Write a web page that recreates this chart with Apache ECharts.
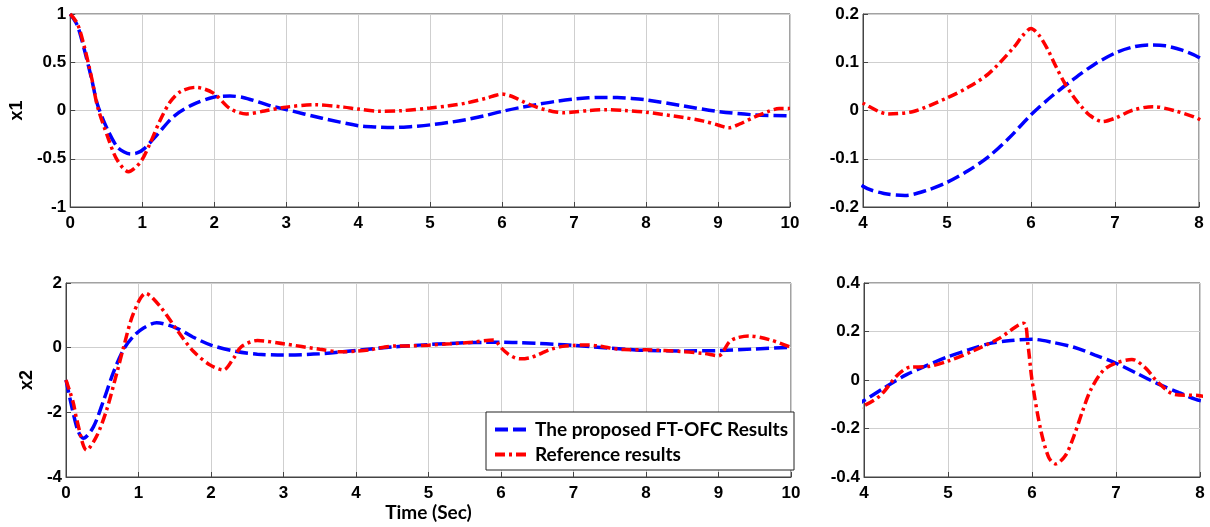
<!DOCTYPE html>
<html>
<head>
<meta charset="utf-8">
<script src="https://cdn.jsdelivr.net/npm/echarts@6/dist/echarts.min.js"></script>
<style>
  html, body { margin: 0; padding: 0; background: #fff; }
  #chart { width: 1210px; height: 527px; }
</style>
</head>
<body>
<div id="chart"></div>
<script>
// x1 — proposed FT-OFC (blue dashed)
const tX1Prop = [0, 0.1, 0.2, 0.3, 0.38, 0.52, 0.65, 0.75, 0.84, 0.93, 1.02, 1.21, 1.44, 1.71, 1.99, 2.22, 2.4, 2.63, 2.8, 3.0, 3.5,
  4.0, 4.25, 4.5, 4.75, 5.0, 5.25, 5.5, 5.75, 6.0, 6.25, 6.5, 6.75, 7.0, 7.2, 7.4, 7.6, 7.8, 8.0, 8.5, 9.0, 9.5, 10]
const x1Prop = [1.0, 0.88, 0.62, 0.32, 0.06, -0.2, -0.375, -0.43, -0.45, -0.44, -0.40, -0.25, -0.06, 0.064, 0.137, 0.15, 0.135, 0.085, 0.045, 0.01, -0.08,
  -0.157, -0.172, -0.176, -0.166, -0.149, -0.125, -0.095, -0.055, -0.009, 0.03, 0.064, 0.095, 0.119, 0.131, 0.136, 0.134, 0.125, 0.110, 0.05, -0.01, -0.045, -0.055]

// x1 — reference results (red dash-dot)
const tX1Ref = [0, 0.1, 0.2, 0.3, 0.38, 0.52, 0.65, 0.81, 0.98, 1.11, 1.25, 1.39, 1.53, 1.74, 1.99, 2.22, 2.45, 2.7, 3.0, 3.4, 3.8,
  4.0, 4.3, 4.6, 5.0, 5.25, 5.5, 5.8, 5.9, 6.0, 6.1, 6.2, 6.3, 6.4, 6.5, 6.6, 6.7, 6.85, 7.0, 7.2, 7.45, 7.7, 8.0,
  8.5, 8.8, 9.0, 9.15, 9.3, 9.5, 9.7, 9.85, 10]
const x1Ref = [1.0, 0.9, 0.65, 0.33, 0.04, -0.27, -0.51, -0.634, -0.53, -0.34, -0.10, 0.09, 0.195, 0.24, 0.18, 0.02, -0.035, -0.005, 0.035, 0.06, 0.035,
  0.015, -0.007, -0.002, 0.026, 0.048, 0.077, 0.132, 0.155, 0.170, 0.155, 0.126, 0.09, 0.057, 0.03, 0.008, -0.01, -0.023, -0.016, 0.0, 0.008, 0.0, -0.018,
  -0.07, -0.11, -0.15, -0.18, -0.14, -0.07, -0.01, 0.02, 0.02]

// x2 — proposed FT-OFC
const tX2Prop = [0, 0.1, 0.17, 0.24, 0.38, 0.52, 0.65, 0.79, 0.93, 1.07, 1.25, 1.53, 1.75, 2.0, 2.35, 2.64, 3.0, 3.5,
  4.0, 4.25, 4.5, 4.75, 5.0, 5.25, 5.5, 5.75, 6.0, 6.25, 6.5, 6.75, 7.0, 7.25, 7.5, 7.75, 8.0, 8.5, 9.0, 9.5, 10]
const x2Prop = [-1.0, -2.03, -2.6, -2.8, -2.44, -1.62, -0.79, -0.07, 0.35, 0.61, 0.77, 0.6, 0.33, 0.08, -0.12, -0.2, -0.23, -0.19,
  -0.085, -0.03, 0.021, 0.06, 0.096, 0.125, 0.151, 0.163, 0.168, 0.155, 0.135, 0.103, 0.069, 0.027, -0.016, -0.052, -0.085, -0.1, -0.09, -0.04, 0.01]

// x2 — reference results
const tX2Ref = [0, 0.1, 0.15, 0.285, 0.42, 0.56, 0.7, 0.79, 0.93, 1.1, 1.3, 1.53, 1.76, 1.99, 2.17, 2.31, 2.42, 2.64, 3.0, 3.5, 3.8,
  4.0, 4.2, 4.4, 4.55, 4.75, 5.0, 5.3, 5.6, 5.9, 5.95, 6.0, 6.1, 6.2, 6.28, 6.4, 6.5, 6.6, 6.7, 6.85, 7.0, 7.19, 7.35, 7.5, 7.7, 8.0,
  8.5, 8.8, 9.0, 9.15, 9.25, 9.42, 9.7, 10]
const x2Ref = [-1.0, -1.7, -2.24, -3.17, -2.75, -1.93, -0.79, -0.02, 1.06, 1.68, 1.27, 0.55, -0.12, -0.54, -0.69, -0.33, 0.03, 0.22, 0.12, -0.05, -0.13,
  -0.106, -0.062, 0.021, 0.053, 0.055, 0.078, 0.12, 0.17, 0.234, 0.15, 0.0, -0.2, -0.32, -0.346, -0.31, -0.23, -0.13, -0.04, 0.04, 0.07, 0.085, 0.05, -0.01, -0.06, -0.065,
  -0.12, -0.18, -0.25, 0.18, 0.3, 0.36, 0.25, 0.01]

const propName = 'The proposed FT-OFC Results'
const refName = 'Reference results'

function pairs(ts, vs) {
  return ts.map((t, i) => [t, vs[i]])
}

const tickFont = { color: '#000', fontSize: 17, fontWeight: 'bold', fontFamily: 'Arial, "Liberation Sans", sans-serif' }

function xAx(gridIndex, min, max, extra) {
  return Object.assign({
    type: 'value', gridIndex, min, max, interval: 1,
    axisLine: { onZero: false, lineStyle: { color: '#444' } },
    axisTick: { inside: true, length: 5, lineStyle: { color: '#444' } },
    axisLabel: Object.assign({ margin: 8 }, tickFont),
    splitLine: { lineStyle: { color: '#cfcfcf' } }
  }, extra || {})
}

function yAx(gridIndex, min, max, interval, extra) {
  return Object.assign({
    type: 'value', gridIndex, min, max, interval,
    axisLine: { show: true, onZero: false, lineStyle: { color: '#444' } },
    axisTick: { show: true, inside: true, length: 5, lineStyle: { color: '#444' } },
    axisLabel: Object.assign({ margin: 4 }, tickFont),
    splitLine: { lineStyle: { color: '#cfcfcf' } }
  }, extra || {})
}

const nameFont = { color: '#000', fontSize: 18, fontWeight: 'bold', fontFamily: 'Arial, "Liberation Sans", sans-serif' }

function lineSeries(name, idx, data, isRef) {
  return {
    name, type: 'line', xAxisIndex: idx, yAxisIndex: idx,
    data, smooth: 0.3, symbol: 'none', animation: false,
    lineStyle: isRef
      ? { color: '#ff0000', width: 3.5, type: [10, 4, 3, 4] }
      : { color: '#0000ff', width: 3.5, type: [13, 5] },
    itemStyle: { color: isRef ? '#ff0000' : '#0000ff' },
    z: isRef ? 3 : 2
  }
}

const chart = echarts.init(document.getElementById('chart'), null, { renderer: 'canvas' })

const gridBox = { show: true, borderColor: '#444', borderWidth: 1, backgroundColor: '#fff' }

chart.setOption({
  backgroundColor: '#fff',
  animation: false,
  grid: [
    Object.assign({ left: 66, top: 14, width: 724, height: 193 }, gridBox),
    Object.assign({ left: 863, top: 14, width: 336, height: 193 }, gridBox),
    Object.assign({ left: 66, top: 283, width: 725, height: 194 }, gridBox),
    Object.assign({ left: 864, top: 283, width: 336, height: 194 }, gridBox)
  ],
  xAxis: [
    xAx(0, 0, 10),
    xAx(1, 4, 8),
    xAx(2, 0, 10, {
      name: 'Time (Sec)', nameLocation: 'middle', nameGap: 26,
      nameTextStyle: { color: '#000', fontSize: 19, fontWeight: 'bold', fontFamily: 'Lato' }
    }),
    xAx(3, 4, 8)
  ],
  yAxis: [
    yAx(0, -1, 1, 0.5, { name: 'x1', nameLocation: 'middle', nameGap: 42, nameTextStyle: nameFont }),
    yAx(1, -0.2, 0.2, 0.1),
    yAx(2, -4, 2, 2, { name: 'x2', nameLocation: 'middle', nameGap: 27, nameTextStyle: nameFont }),
    yAx(3, -0.4, 0.4, 0.2)
  ],
  legend: {
    data: [propName, refName],
    orient: 'vertical',
    left: 486, top: 412,
    padding: [8, 6, 6, 7],
    itemGap: 6,
    itemWidth: 35, itemHeight: 14,
    itemStyle: { opacity: 0 },
    lineStyle: { width: 4 },
    backgroundColor: '#fff',
    borderColor: '#222', borderWidth: 1, borderRadius: 0,
    textStyle: { color: '#000', fontSize: 19, fontWeight: 'bold', fontFamily: 'Lato' }
  },
  series: [
    lineSeries(propName, 0, pairs(tX1Prop, x1Prop), false),
    lineSeries(refName, 0, pairs(tX1Ref, x1Ref), true),
    lineSeries(propName, 1, pairs(tX1Prop, x1Prop), false),
    lineSeries(refName, 1, pairs(tX1Ref, x1Ref), true),
    lineSeries(propName, 2, pairs(tX2Prop, x2Prop), false),
    lineSeries(refName, 2, pairs(tX2Ref, x2Ref), true),
    lineSeries(propName, 3, pairs(tX2Prop, x2Prop), false),
    lineSeries(refName, 3, pairs(tX2Ref, x2Ref), true)
  ]
})
</script>
</body>
</html>
